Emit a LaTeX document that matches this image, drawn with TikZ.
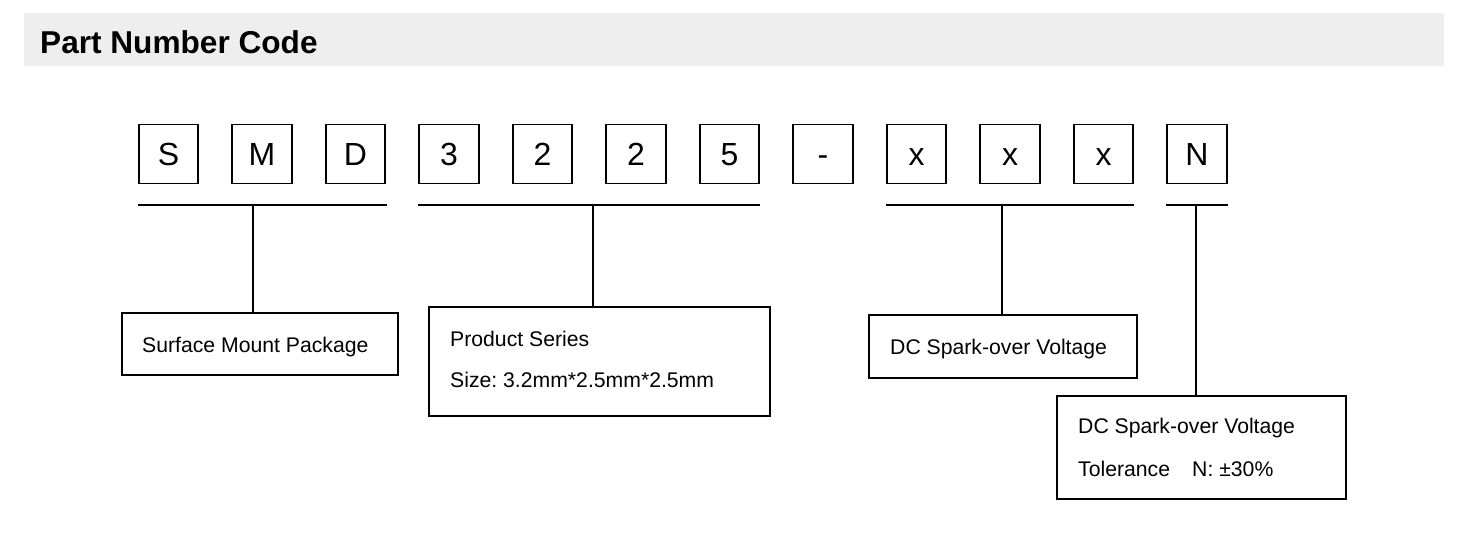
\documentclass[tikz,border=0pt]{standalone}
\usepackage{fontspec}
\setmainfont{Liberation Sans}
\definecolor{bandgray}{HTML}{EEEEEE}
\frenchspacing
\begin{document}
\begin{tikzpicture}[x=1pt,y=-1pt,
  charbox/.style={draw, line width=1.6pt, minimum width=59.5pt, minimum height=59pt, inner sep=0pt,
    font=\fontsize{32}{36}\selectfont, text height=22.9pt, text depth=0pt},
  labelbox/.style={draw, line width=1.6pt, inner sep=0pt},
  labeltext/.style={anchor=base west, inner sep=0pt, font=\fontsize{21.2}{24}\selectfont},
  conn/.style={line width=1.8pt}]
\useasboundingbox (0,0) rectangle (1459,546);
% header band
\fill[bandgray] (24,13) rectangle (1444,66);
\node[anchor=base west, inner sep=0pt, font=\fontsize{31.6}{34}\bfseries] (title) at (40,53) {Part Number Code};
% character boxes
\foreach \ch [count=\k from 0] in {S,M,D,3,2,2,5,-,x,x,x,N} {
  \node[charbox] (c\k) at ({168.5+93.5*\k},154) {\ch};
}
% underline coordinates
\coordinate (u1a) at (138,205); \coordinate (u1b) at (387,205);
\coordinate (u2a) at (418,205); \coordinate (u2b) at (760,205);
\coordinate (u3a) at (886,205); \coordinate (u3b) at (1134,205);
\coordinate (u4a) at (1166,205); \coordinate (u4b) at (1228,205);
\draw[conn] (u1a) -- (u1b);
\draw[conn] (u2a) -- (u2b);
\draw[conn] (u3a) -- (u3b);
\draw[conn] (u4a) -- (u4b);
% junctions
\coordinate (j1) at (253,205);
\coordinate (j2) at (593,205);
\coordinate (j3) at (1002,205);
\coordinate (j4) at (1196,205);
% label boxes
\node[labelbox, minimum width=276pt, minimum height=62pt] (b1) at (260,344) {};
\node[labelbox, minimum width=341pt, minimum height=109pt] (b2) at (599.5,361.5) {};
\node[labelbox, minimum width=268pt, minimum height=63pt] (b3) at (1003,346.5) {};
\node[labelbox, minimum width=289pt, minimum height=103pt] (b4) at (1201.5,447.5) {};
% connectors
\draw[conn] (j1) -- (j1 |- b1.north);
\draw[conn] (j2) -- (j2 |- b2.north);
\draw[conn] (j3) -- (j3 |- b3.north);
\draw[conn] (j4) -- (j4 |- b4.north);
% texts
\node[labeltext] (t1) at (142,352) {Surface Mount Package};
\node[labeltext] (t2a) at (450,346) {Product Series};
\node[labeltext] (t2b) at (450,387) {Size: 3.2mm*2.5mm*2.5mm};
\node[labeltext] (t3) at (890,354) {DC Spark-over Voltage};
\node[labeltext] (t4a) at (1078,433) {DC Spark-over Voltage};
\node[labeltext] (t4b) at (1078,476) {Tolerance};
\node[labeltext] (t4c) at (1192,476) {N: ±30\%};
\end{tikzpicture}
\end{document}
